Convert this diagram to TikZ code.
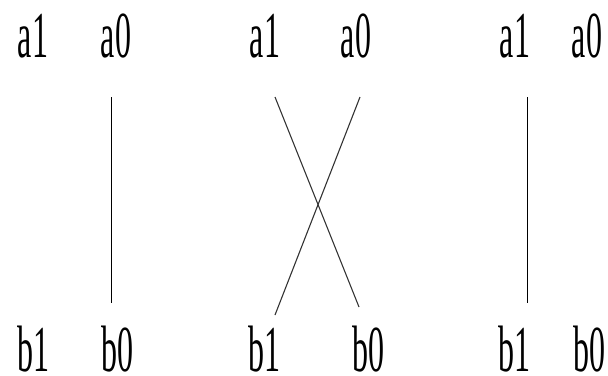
\documentclass[tikz,border=0pt]{standalone}
\usepackage{fontspec}
\setmainfont{Liberation Serif}
\usepackage{graphicx}
\newcommand{\talltext}[1]{\scalebox{1.0}[2.05]{#1}}
\tikzset{
  lbl/.style={anchor=base, inner sep=0pt, outer sep=0pt, font=\fontsize{32}{32}\selectfont},
  wire/.style={line width=1pt, black},
  xwire/.style={line width=1.1pt, black!80}
}
\begin{document}
\begin{tikzpicture}[x=1pt,y=-1pt]
\useasboundingbox (0,0) rectangle (608,375);
% labels, group 1
\node[lbl] (a1A) at (33,57) {\talltext{a1}};
\node[lbl] (a0A) at (116,57) {\talltext{a0}};
\node[lbl] (b1A) at (33,371) {\talltext{b1}};
\node[lbl] (b0A) at (117,371) {\talltext{b0}};
% group 2
\node[lbl] (a1B) at (265,57) {\talltext{a1}};
\node[lbl] (a0B) at (356,57) {\talltext{a0}};
\node[lbl] (b1B) at (264,371) {\talltext{b1}};
\node[lbl] (b0B) at (368,371) {\talltext{b0}};
% group 3
\node[lbl] (a1C) at (515,57) {\talltext{a1}};
\node[lbl] (a0C) at (587,57) {\talltext{a0}};
\node[lbl] (b1C) at (514,371) {\talltext{b1}};
\node[lbl] (b0C) at (589,371) {\talltext{b0}};
% wire ends
\coordinate (tA) at (111,97);
\coordinate (bA) at (111,303);
\coordinate (tBl) at (275,97);
\coordinate (tBr) at (360,97);
\coordinate (bBl) at (275,315);
\coordinate (bBr) at (359,307);
\coordinate (tC) at (527,97);
\coordinate (bC) at (527,303);
\draw[wire] (tA) -- (bA);
\draw[xwire] (tBl) -- (bBr);
\draw[xwire] (tBr) -- (bBl);
\draw[wire] (tC) -- (bC);
\end{tikzpicture}
\end{document}
